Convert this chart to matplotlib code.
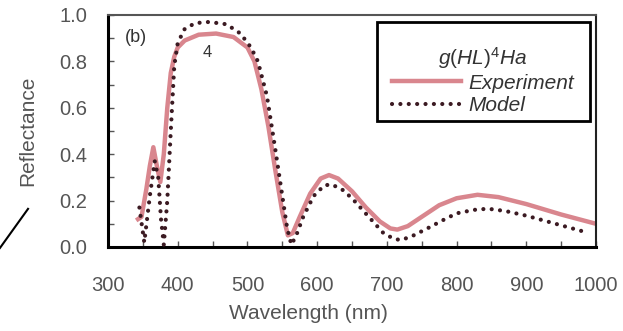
import matplotlib
matplotlib.use("Agg")
import matplotlib.pyplot as plt
from matplotlib.lines import Line2D
from matplotlib.patches import Rectangle
from matplotlib.ticker import MultipleLocator, FormatStrFormatter

plt.rcParams['font.family'] = ['Liberation Sans', 'DejaVu Sans']
plt.rcParams['mathtext.fontset'] = 'custom'
plt.rcParams['mathtext.rm'] = 'Liberation Sans'
plt.rcParams['mathtext.it'] = 'Liberation Sans:italic'

# Measured reflectance spectrum
exp_wl = [343, 348, 355, 360, 365, 370, 375, 380, 385, 390, 395, 400, 410, 430,
          455, 480, 500, 510, 520, 530, 540, 550, 558, 565, 575, 590, 605, 617,
          630, 650, 670, 690, 705, 715, 730, 750, 775, 800, 830, 860, 900, 950, 1000]
exp_r = [0.12, 0.13, 0.25, 0.35, 0.43, 0.35, 0.28, 0.40, 0.60, 0.75, 0.82, 0.86, 0.89, 0.915,
         0.92, 0.905, 0.86, 0.80, 0.68, 0.52, 0.33, 0.15, 0.05, 0.06, 0.13, 0.23, 0.295, 0.31,
         0.295, 0.24, 0.17, 0.11, 0.08, 0.075, 0.09, 0.13, 0.18, 0.21, 0.225, 0.215, 0.185, 0.14, 0.10]

# Modelled reflectance spectrum
mod_wl = [345, 352, 360, 367, 372, 376, 380, 385, 390, 395, 400, 410, 425, 445, 470, 490,
          505, 515, 528, 540, 550, 557, 563, 570, 580, 595, 610, 620, 635, 650, 665, 680,
          695, 710, 720, 735, 758, 780, 800, 825, 845, 870, 900, 930, 960, 990]
mod_r = [0.17, 0.02, 0.22, 0.37, 0.30, 0.12, 0.01, 0.20, 0.50, 0.78, 0.88, 0.94, 0.965, 0.97, 0.96, 0.92,
         0.86, 0.80, 0.65, 0.42, 0.22, 0.08, 0.01, 0.05, 0.13, 0.22, 0.265, 0.27, 0.25, 0.21, 0.16, 0.11,
         0.06, 0.035, 0.03, 0.045, 0.08, 0.115, 0.145, 0.16, 0.165, 0.155, 0.135, 0.11, 0.085, 0.06]

fig = plt.figure(figsize=(6.23, 3.31), dpi=100)
ax = fig.add_axes([0.1734, 0.2538, 0.7833, 0.7009])

ax.plot(exp_wl, exp_r, color='#d9868e', lw=3.2, label='Experiment', zorder=2)
ax.plot(mod_wl, mod_r, color='#3b1a22', lw=3.0, ls=(0, (0.01, 2.0)),
        dash_capstyle='round', label='Model', zorder=3)

ax.set_xlim(300, 1000)
ax.set_ylim(0, 1.0)
ax.xaxis.set_major_locator(MultipleLocator(100))
ax.xaxis.set_minor_locator(MultipleLocator(50))
ax.yaxis.set_major_locator(MultipleLocator(0.2))
ax.yaxis.set_minor_locator(MultipleLocator(0.1))
ax.yaxis.set_major_formatter(FormatStrFormatter('%.1f'))
ax.tick_params(which='both', direction='in', length=4, width=1, color='#555555',
               labelsize=14.5, labelcolor='#555555')
ax.tick_params(axis='x', which='both', pad=21)
ax.tick_params(axis='y', which='both', pad=15)

for side in ('left', 'bottom'):
    ax.spines[side].set_linewidth(2.2)
    ax.spines[side].set_color('black')
ax.spines['top'].set_linewidth(1.5)
ax.spines['top'].set_color('#555555')
ax.spines['right'].set_linewidth(1.5)
ax.spines['right'].set_color('#222222')

ax.set_xlabel('Wavelength (nm)', fontsize=15, color='#555555')
ax.set_ylabel('Reflectance', fontsize=15, color='#555555')
ax.xaxis.set_label_coords(0.41, -0.245)
ax.yaxis.set_label_coords(-0.145, 0.5)

ax.text(0.035, 0.905, '(b)', transform=ax.transAxes, fontsize=13, color='#333333',
        ha='left', va='center')
ax.text(442, 0.84, '4', fontsize=12, color='#333333', ha='center', va='center')

# legend frame
ax.add_patch(Rectangle((0.551, 0.543), 0.437, 0.427, transform=ax.transAxes,
                       facecolor='white', edgecolor='black', lw=2.0, zorder=4))

leg = ax.legend(loc='upper left', bbox_to_anchor=(0.582, 0.872),
                title=r'$g(HL)^{4}Ha$', fontsize=15, title_fontsize=15,
                handlelength=3.3, handletextpad=0.35, borderpad=0,
                labelspacing=0.15, frameon=False, alignment='center',
                borderaxespad=0)
leg.set_zorder(5)
for t in leg.get_texts():
    t.set_style('italic')
    t.set_color('#333333')
leg.get_title().set_color('#333333')

# pointer line at the lower left
fig.add_artist(Line2D([0.0, 0.045], [0.251, 0.369], transform=fig.transFigure,
                      color='black', lw=1.5))

fig.savefig('out.png', dpi=100)
